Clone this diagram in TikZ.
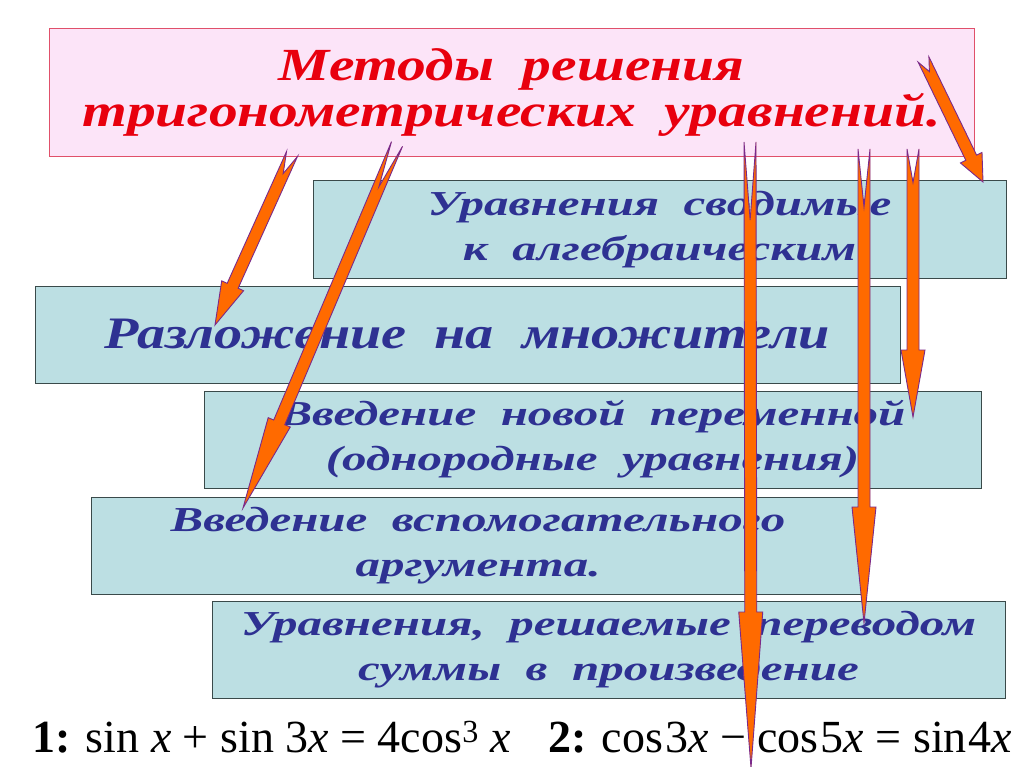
\documentclass[tikz,border=0pt]{standalone}
\usepackage{fontspec}
\usetikzlibrary{calc}
\newfontfamily\titlefont[FakeStretch=1.25]{Liberation Serif}
\newfontfamily\methodfont[FakeStretch=1.4]{Liberation Serif}
\newfontfamily\eqfont{Liberation Serif}
\definecolor{titlefill}{HTML}{FCE4F8}
\definecolor{titleline}{HTML}{E0506A}
\definecolor{titletext}{HTML}{E8000E}
\definecolor{boxfill}{HTML}{BCDFE3}
\definecolor{boxline}{HTML}{3A4A4A}
\definecolor{boxtext}{HTML}{2E3192}
\definecolor{arrfill}{HTML}{FF6A00}
\definecolor{arrline}{HTML}{7A2A8A}
\begin{document}
\begin{tikzpicture}[x=1pt,y=-1pt]
	\tikzstyle{title}=[draw=titleline,fill=titlefill,line width=1pt,minimum width=925pt,minimum height=128pt,inner sep=0pt,align=center,text=titletext,font=\titlefont\bfseries\itshape\fontsize{46}{46}\selectfont]
	\tikzstyle{method}=[draw=boxline,fill=boxfill,line width=1pt,minimum height=97pt,inner sep=0pt,align=center,text=boxtext,font=\methodfont\bfseries\itshape\fontsize{35}{45}\selectfont]
	\tikzstyle{arrow}=[fill=arrfill,draw=arrline,line width=0.9pt,line join=miter]
	\tikzstyle{equation}=[anchor=base west,inner sep=0pt,font=\eqfont\fontsize{46}{46}\selectfont]
	\useasboundingbox[fill=white] (0,0) rectangle (1024,767);
	\node[title] (t) at (511.5,93) {Методы~ решения\\тригонометрических~ уравнений.};
	\node[method,minimum width=693pt] (m_1) at (659.5,229.5) {Уравнения~ сводимые\\к~ алгебраическим};
	\node[method,minimum width=865pt,font=\titlefont\bfseries\itshape\fontsize{45}{45}\selectfont] (m_2) at (467.5,334.5) {Разложение~ на~ множители};
	\node[method,minimum width=777pt] (m_3) at (592.5,439.5) {Введение~ новой~ переменной\\(однородные~ уравнения)};
	\node[method,minimum width=774pt] (m_4) at (478,545.5) {Введение~ вспомогательного\\аргумента.};
	\node[method,minimum width=793pt] (m_5) at (608.5,650) {Уравнения,~ решаемые~ переводом\\суммы~ в~ произведение};
	\node[equation] (eq_1) at (32,752) {\textbf{1:} sin \textit{x} + sin 3\textit{x} = 4cos\textsuperscript{3} \textit{x}};
	\node[equation] (eq_2) at (548,752) {\textbf{2:} cos\kern2pt 3\textit{x} − cos\kern2pt 5\textit{x} = sin\kern2pt 4\textit{x}};
	% ends of the arrows
	\coordinate (s_1) at (292,154); \coordinate (e_1) at (215,325);
	\coordinate (s_2) at (397,144); \coordinate (e_2) at (243,508);
	\coordinate (s_3) at (750,142); \coordinate (e_3) at (751,768);
	\coordinate (s_4) at (864,149); \coordinate (e_4) at (864,623);
	\coordinate (s_5) at (913,149); \coordinate (e_5) at (913,417);
	\coordinate (s_6) at (923.5,59.5); \coordinate (e_6) at (983,182);
	\foreach \i/\h in {1/43,2/93,3/156,4/116,5/67,6/27} {
		\pgfmathsetmacro\nd{\h/2}
		\path ($(e_\i)!\h pt!(s_\i)$) coordinate (b_\i);
		\filldraw[arrow] ($(s_\i)!6pt!90:(e_\i)$) -- ($(s_\i)!\nd pt!(e_\i)$) -- ($(s_\i)!6pt!-90:(e_\i)$)
			-- ($(b_\i)!6pt!-90:(e_\i)$) -- ($(b_\i)!12pt!-90:(e_\i)$) -- (e_\i)
			-- ($(b_\i)!12pt!90:(e_\i)$) -- ($(b_\i)!6pt!90:(e_\i)$) -- cycle;
	}
\end{tikzpicture}
\end{document}
